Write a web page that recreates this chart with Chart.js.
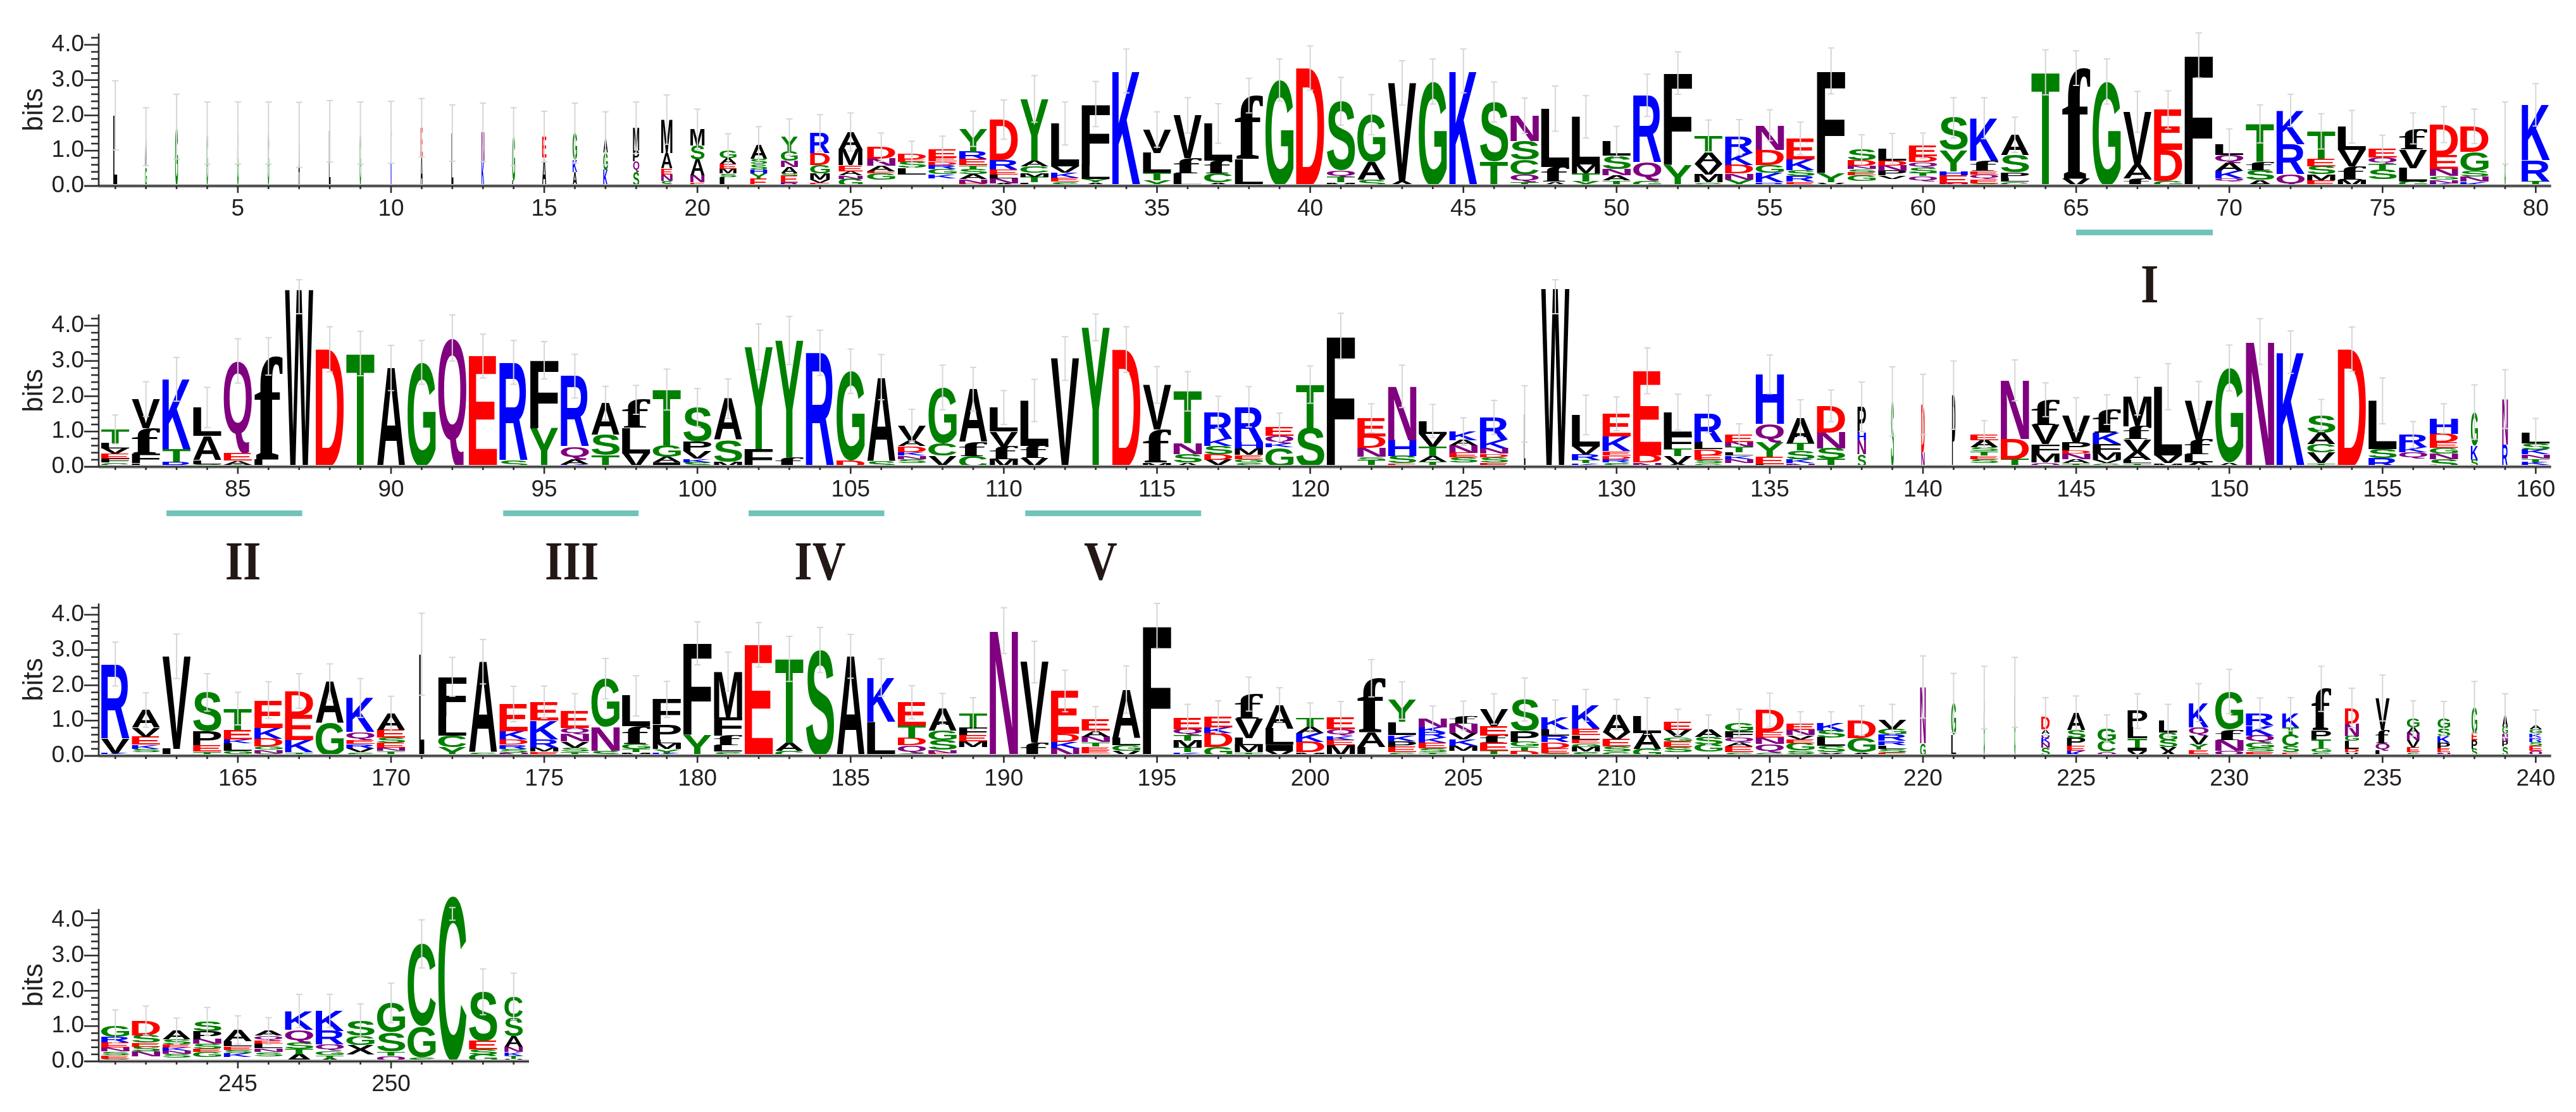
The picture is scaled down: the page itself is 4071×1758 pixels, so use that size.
<!DOCTYPE html>
<html>
<head>
<meta charset="utf-8">
<title>Sequence logo</title>
<script src="https://cdn.jsdelivr.net/npm/chart.js@4/dist/chart.umd.min.js"></script>
<style>
  html, body { margin: 0; padding: 0; background: #fff; }
  #page { position: relative; width: 4071px; height: 1758px; overflow: hidden; }
  canvas { position: absolute; left: 0; filter: blur(0.6px); }
</style>
</head>
<body>
<div id="page"></div>
<script>
// letters of each column read bottom to top, '-' is an empty part of the stack
const row1Letters = [
  'L','GA','G','G','G','G','A','L','G','K',
  'AE','L','KN','LG','AE','AKG','KGA','SQPM','SNEAM','ENASM',
  'LSMEAG','EYHSSA','RESANGY','EVMGDR','GNAEMA','-GEAND','-LSED','-KGRDEE','DNASTERY','ANLERD',
  'LTMCAY','SEKVL','AYLF','K','YTLV','LfV','ACfL','Lf','G','D',
  'MTQS','SAG','AV','G','K','TS','TQCSN','AfL','YTML','-TANSL',
  'GQR','YF','GMVAT','YNDKR','RKGDN','ERSKE','VYF','-GESNDS','-VPNDL','-QTSQDE',
  'NEHYS','GEQEfK','GLPSA','T','Vf','G','fAV','GDE','F','-QKAQL',
  'ASfT','QRK','EMSET','MfVL','-STQE','GLVf','KNGNED','KNSGD','G','TRK'
];
const row1Bits = [
  [2],[.55,.85],[1.68],[1.5],[1.5],[1.5],[1.45],[1.55],[1.5],[1.52],
  [.85,.8],[1.5],[.72,.8],[.15,1.25],[.8,.6],[.4,.35,.75],[.45,.5,.4],[.4,.3,.3,.65],[.15,.18,.17,.43,.95],[.1,.2,.45,.4,.45],
  [.25,.1,.13,.14,.16,.22],[.2,.15,.12,.15,.15,.4],[.09,.2,.06,.18,.18,.27,.4],[.09,.09,.18,.24,.33,.57],[.2,.1,.12,.17,.45,.49],[.18,.18,.06,.15,.2,.33],[.33,.18,.18,.06,.15],[.21,.12,.15,.12,.1,.11,.22],[.08,.12,.13,.14,.12,.18,.2,.65],[.08,.14,.11,.13,.27,1.15],
  [.1,.15,.12,.18,.17,1.75],[.12,.12,.13,.18,1.22],[.1,.1,.38,1.74],[3.26],[.17,.2,.56,.67],[.36,.42,1.22],[.1,.26,.36,1.05],[.76,1.8],[3],[3.34],
  [.1,.15,.18,1.97],[.18,.5,1.34],[.14,2.78],[2.96],[3.26],[.7,1.68],[.12,.2,.42,.53,.72],[.12,.42,1.65],[.13,.22,.26,1.35],[.06,.1,.14,.18,.38,.4],
  [.15,.52,1.9],[.6,2.6],[.1,.22,.3,.32,.48],[.18,.17,.24,.34,.45],[.1,.27,.22,.43,.7],[.12,.17,.16,.3,.6],[.1,.26,2.9],[.14,.16,.08,.1,.1,.15,.3],[.2,.1,.13,.15,.14,.34],[.12,.16,.08,.17,.15,.16,.3],
  [.08,.22,.12,.6,.91],[.08,.12,.12,.1,.3,1.2],[.12,.12,.14,.5,.57],[3.22],[.2,3.14],[2.96],[.21,.4,1.49],[.14,.88,1.14],[3.7],[.12,.1,.2,.22,.24,.3],
  [.17,.28,.25,1.06],[.34,.85,.95],[.16,.17,.23,.21,.78],[.18,.37,.47,.66],[.2,.27,.16,.18,.24],[.13,.38,.52,.6],[.08,.1,.1,.2,.38,.88],[.12,.14,.16,.55,.72],[1.5],[.13,.6,1.57]
];
const row1Upper = [
  2.98,2.22,2.6,2.38,2.38,2.38,2.37,2.42,2.38,2.4,
  2.48,2.3,2.35,2.22,2.12,2.35,2.1,2.38,2.58,2.18,
  1.48,1.68,1.9,2.02,2.07,1.5,1.27,1.41,2.12,2.44,
  3.13,2.38,2.96,3.88,2.1,2.5,2.33,3.05,3.6,3.97,
  3.08,2.59,3.55,3.6,3.88,2.95,2.49,2.83,2.56,1.69,
  3.17,3.8,1.87,1.88,2.16,1.81,3.91,1.45,1.49,1.5,
  2.5,2.5,1.95,3.86,3.83,3.6,2.68,2.7,4.34,1.62,
  2.3,2.6,2.05,2.14,1.44,2.07,2.25,2.18,2.38,2.9
];

const row2Letters = [
  'GFEVLT','LFfV','RTK','SLAL','TAEQ','Lf','W','D','T','A',
  'G','Q','E','SR','YF','KAQR','TSA','VLf','IAGT','SKVPS',
  'MSA','FY','fY','R','DG','SA','-SNKDAV','AVCG','CfA','MfVL',
  'VfL','V','Y','D','MfV','ASNT','-VDSKR','SGEMHR','GKQE','ST',
  'F','-TSNDE','ESHN','-TATVL','-SENAK','ESDNKR','L','W','KTRVL','SRDEKE',
  'NDE','AVTFL','GSEDLR','-NKLTNE','LEYQH','NKSTA','TSND','SNHP','S','ND',
  'P','-SETSAE','TDN','QMFVf','TANDPV','GVMFKf','TLAVfM','MVL','ALfV','AG',
  'N','K','TVCAS','D','RSL','-QKR','SNGEDH','SKG','RN','-KTNKSL'
];
const row2Bits = [
  [.12,.12,.13,.15,.15,.39],[.1,.27,.72,.83],[.14,.36,1.98],[.08,.12,.68,.8],[.06,.12,.2,2.62],[.2,2.93],[5.02],[3.33],[3.21],[2.8],
  [2.96],[3.65],[3.14],[.18,2.78],[1.1,1.92],[.07,.14,.36,2],[.33,.58,.89],[.38,.72,.8],[.12,.17,.32,1.58],[.13,.1,.21,.28,.96],
  [.14,.62,1.17],[.5,2.9],[.26,3.32],[3.23],[.18,2.53],[.17,2.37],[.1,.12,.1,.1,.17,.15,.44],[.04,.28,.34,1.59],[.3,.4,1.5],[.22,.36,.42,.68],
  [.24,.36,1.28],[3.07],[3.95],[3.32],[.12,.93,1.27],[.12,.24,.3,1.48],[.05,.15,.15,.24,.2,.76],[.12,.1,.12,.18,.18,1],[.55,.12,.2,.25],[1.1,1.23],
  [3.7],[.05,.13,.1,.25,.33,.52],[.1,.2,.46,1.52],[.05,.1,.15,.27,.36,.37],[.12,.14,.14,.2,.15,.25],[.12,.15,.1,.15,.25,.63],[1.5],[5.05],[.1,.1,.15,.22,.9],[.12,.1,.1,.12,.42,.64],
  [.12,.2,2.4],[.08,.22,.2,.4,.65],[.1,.1,.13,.17,.2,.8],[.1,.12,.1,.1,.15,.13,.2],[.08,.2,.42,.52,1.4],[.1,.12,.24,.2,.72],[.22,.3,.45,.76],[.36,.4,.2,.74],[1.85],[.42,1.35],
  [2.03],[.1,.12,.1,.12,.12,.2,.17],[.22,.56,1.67],[.12,.26,.26,.54,.72],[.1,.12,.15,.1,.22,.79],[.1,.1,.2,.24,.32,.66],[.1,.1,.22,.36,.36,.86],[.1,.23,1.94],[.13,.22,.42,1.11],[.12,2.68],
  [3.55],[3.25],[.1,.3,.24,.32,.5],[3.33],[.25,.25,1.37],[.24,.17,.14,.36],[.22,.16,.16,.16,.24,.43],[.2,.4,.95],[.62,1.3],[.05,.08,.1,.12,.14,.18,.3]
];
const row2Upper = [
  1.47,2.41,3.1,2.25,3.63,3.66,5.3,3.97,3.84,3.44,
  3.58,4.3,3.76,3.58,3.55,3.19,2.28,2.31,2.77,2.22,
  2.49,4.05,4.26,3.87,3.34,3.18,1.63,2.88,2.82,2.16,
  2.48,3.69,4.33,3.97,2.84,2.7,2,2.27,1.52,2.86,
  4.35,1.79,2.88,1.77,1.39,1.88,2.3,5.3,2.03,1.98,
  3.37,2.06,2.03,1.22,3.17,1.9,2.18,2.4,2.83,2.62,
  3,1.31,3.03,2.38,1.96,2.04,2.53,2.92,2.42,3.45,
  4.2,3.85,1.91,3.96,2.52,1.28,1.79,2.32,2.75,1.37
];

const row3Letters = [
  'KVR','-SKEVA','LV','TEPS','-GLKET','SNGDKE','TKED','GA','SVREQK','-TNESEA',
  'L','YCLF','SA','NSRDKE','EMRKE','TSVNQE','SNG','MTGfL','KYMLPF','YF',
  'SLfFM','E','CAT','S','A','LK','GQDTE','ENSGA','-MEFT','N',
  'fV','NKDE','-EETNAE','VGLA','F','KTMTQE','GDKE','TMLVf','VILA','MDKAT',
  'MEKQE','LAf','SEPKLY','TSEKRKN','-MKVNf','TEfEV','DTGPS','GEDRLK','SMGELEK','GSEVA',
  'GAL','-SEGVE','-GSA','SEAQFG','GQNED','-SGEVNE','XSLSK','AGD','ESLRRGV','GN',
  'LG','G','G','SNKQAD','KEPSA','QCG','VITLP','XSGL','SEYVQK','QNfG',
  'ESGQKR','ESCTK','SGTPf','VDLGND','LQfV','SEVNAG','NEPKSG','SPEG','SPNGA','QESRKGA'
];
const row3Bits = [
  [.08,.41,2.11],[.1,.1,.12,.22,.26,.5],[.2,2.62],[.12,.18,.4,1.1],[.05,.1,.2,.12,.27,.6],[.07,.1,.1,.22,.3,.79],[.1,.35,.7,.69],[.92,1.18],[.1,.12,.12,.12,.22,.96],[.04,.1,.1,.14,.14,.22,.46],
  [2.88],[.25,.32,.55,1.12],[.1,2.57],[.08,.12,.12,.14,.24,.77],[.12,.12,.22,.54,.52],[.12,.12,.17,.2,.17,.48],[.14,.68,1.37],[.1,.1,.14,.5,.86],[.08,.12,.15,.12,.42,.71],[.6,2.59],
  [.12,.18,.28,.52,1.29],[3.15],[.15,.22,2.38],[3],[2.82],[.97,1.25],[.08,.22,.2,.36,.66],[.08,.1,.27,.27,.61],[.25,.16,.18,.21,.4],[3.55],
  [.37,2.29],[.22,.18,.23,1.21],[.07,.1,.1,.12,.15,.17,.32],[.14,.17,.2,1.37],[3.68],[.1,.13,.2,.15,.18,.32],[.25,.4,.15,.3],[.1,.2,.2,.55,.7],[.14,.18,.45,.68],[.1,.3,.25,.18,.25],
  [.3,.15,.12,.18,.35],[.25,.42,1.53],[.1,.15,.17,.17,.37,.61],[.1,.12,.16,.13,.15,.15,.24],[.15,.13,.18,.18,.28,.22],[.15,.22,.2,.28,.48],[.14,.12,.14,.3,.9],[.08,.14,.17,.18,.18,.35],[.12,.13,.1,.12,.12,.18,.66],[.12,.14,.2,.2,.51],
  [.2,.45,.48],[.1,.15,.16,.12,.2,.22],[.12,.2,.22,.2],[.1,.16,.12,.14,.18,.24],[.1,.24,.18,.16,.62],[.05,.1,.2,.12,.12,.15,.18],[.1,.18,.24,.2,.21],[.1,.4,.5],[.08,.12,.1,.12,.18,.16,.28],[.36,1.59],
  [.6,.9],[1.65],[1.8],[.24,.13,.13,.13,.12,.37],[.14,.14,.22,.24,.48],[.12,.3,.36],[.14,.1,.26,.32,.45],[.25,.2,.22,.33],[.06,.12,.15,.24,.24,.7],[.15,.3,.3,1.07],
  [.12,.12,.14,.2,.28,.34],[.1,.18,.32,.2,.38],[.1,.12,.25,.25,1.18],[.1,.1,.22,.14,.36,.44],[.16,.2,.38,.9],[.1,.14,.2,.2,.17,.25],[.1,.12,.15,.19,.22,.28],[.2,.24,.2,.73],[.26,.16,.2,.2,.32],[.14,.14,.12,.12,.12,.12,.12]
];
const row3Upper = [
  3.22,1.79,3.45,2.33,1.8,2.1,2.33,2.61,2.19,1.69,
  4.04,2.79,3.3,1.97,1.98,1.76,2.76,2.27,2.11,3.8,
  2.94,3.78,3.39,3.64,3.44,2.75,1.99,1.77,1.65,4.2,
  3.25,2.43,1.4,2.55,4.32,1.46,1.56,2.23,1.93,1.5,
  1.54,2.73,2.1,1.41,1.55,1.76,2.21,1.58,1.88,1.6,
  1.65,1.32,1.16,1.32,1.78,1.25,1.25,1.42,1.46,2.83,
  2.34,2.54,2.79,1.65,1.7,1.16,1.76,1.46,2.05,2.45,
  1.64,1.65,2.54,1.92,2.29,1.56,1.54,2.11,1.76,1.3
];

const row4Letters = ['SESNERG','-NSESD','-SNKESA','-GESNPS','-KSELA','-SNLEQA','ATSQK','ATGQRK','-XGS','QTSG','SGC','C','GSES','VTKNASC'];
const row4Bits = [
  [.08,.1,.1,.12,.14,.16,.3],[.14,.14,.14,.12,.2,.42],[.1,.12,.09,.09,.08,.14,.24],[.12,.14,.1,.14,.13,.22,.28],[.12,.12,.09,.1,.14,.32],[.15,.12,.1,.14,.1,.12,.13],[.2,.16,.18,.36,.53],
  [.08,.1,.12,.18,.38,.57],[.2,.27,.26,.42],[.16,.12,.55,.83],[.12,.88,2.33],[4.68],[.2,.14,.24,1.39],[.07,.1,.1,.14,.3,.53,.6]
];
const row4Upper = [1.46,1.57,1.23,1.53,1.29,1.24,1.9,1.9,1.63,2.22,4.01,4.36,2.62,2.5];

// lower end of the error bar where it is not the mirror of the upper end
const lowerPositions = [87, 128, 252];
const lowerValues = [4.34, 4.34, 4.0];

// columns drawn narrower than full width (share of the column)
const narrowPositions = [1,2,3,4,5,6,7,8,9,10,11,12,13,14,15,16,17,18,19,20,21,22,23,24,25,79,127,138,139,140,141,158,159,171,220,221,222,223,224,225,226,227,228,229,232,233,234,235,236,237,238,239,240,254];
const narrowShares = [.14,.07,.1,.05,.05,.05,.05,.06,.05,.05,.08,.07,.1,.1,.15,.16,.16,.22,.4,.5,.6,.6,.6,.7,.85,.04,.05,.3,.1,.12,.12,.25,.2,.18,.2,.17,.04,.04,.3,.65,.65,.7,.65,.7,.6,.7,.5,.5,.45,.45,.2,.2,.45,.65];

const motifNames = ['I','II','III','IV','V'];
const motifStarts = [65, 82.67, 93.66, 101.67, 110.7];
const motifEnds = [69.46, 87.1, 98.08, 106.1, 116.44];
const motifCentres = [67.4, 85.17, 95.9, 104, 113.16];

const colors = {
  G: '#008000', S: '#008000', T: '#008000', Y: '#008000', C: '#008000',
  Q: '#800080', N: '#800080',
  K: '#0000ff', R: '#0000ff', H: '#0000ff',
  D: '#ff0000', E: '#ff0000'
};
const inkColor = '#231f20';
const gapLetter = '-';

function posOf(chart, pos) {
  return chart.scales.x.getPixelForValue(pos - chart.options.rowStart);
}

// squeeze one glyph into the box of its stacked bar
function drawLetter(ctx, letter, x, top, w, h) {
  if (h < 1 || w < 0.5) return;
  ctx.font = letter === 'f' ? 'bold 200px "Liberation Serif"' : 'bold 200px "Liberation Sans"';
  const m = ctx.measureText(letter);
  const gw = m.actualBoundingBoxLeft + m.actualBoundingBoxRight;
  const gh = m.actualBoundingBoxAscent + m.actualBoundingBoxDescent;
  ctx.save();
  ctx.translate(x - w / 2, top);
  ctx.scale(w / gw, h / gh);
  ctx.fillStyle = colors[letter] || '#000';
  ctx.textAlign = 'left';
  ctx.textBaseline = 'alphabetic';
  ctx.fillText(letter, m.actualBoundingBoxLeft, m.actualBoundingBoxAscent);
  ctx.restore();
}

const logoPlugin = {
  id: 'logo',
  afterDatasetsDraw(chart) {
    const ctx = chart.ctx;
    const o = chart.options;
    const xs = chart.scales.x;
    const ys = chart.scales.y;

    // letters
    chart.data.datasets.forEach((ds, k) => {
      chart.getDatasetMeta(k).data.forEach((bar, i) => {
        const letter = o.rowLetters[i][k];
        if (!letter || letter === gapLetter) return;
        const pos = o.rowStart + i;
        const n = narrowPositions.indexOf(pos);
        const share = n >= 0 ? narrowShares[n] : 1;
        drawLetter(ctx, letter, bar.x, bar.y, bar.width * share, bar.base - bar.y);
      });
    });

    // error bars
    ctx.strokeStyle = '#d6d6d6';
    ctx.lineWidth = 2;
    o.rowUpper.forEach((up, i) => {
      const pos = o.rowStart + i;
      const total = o.rowBits[i].reduce((a, b) => a + b, 0);
      const n = lowerPositions.indexOf(pos);
      const low = n >= 0 ? lowerValues[n] : Math.max(0, 2 * total - up);
      const x = posOf(chart, pos);
      ctx.beginPath();
      ctx.moveTo(x, ys.getPixelForValue(up));
      ctx.lineTo(x, ys.getPixelForValue(low));
      [up, low].forEach(v => {
        ctx.moveTo(x - 5, ys.getPixelForValue(v));
        ctx.lineTo(x + 5, ys.getPixelForValue(v));
      });
      ctx.stroke();
    });

    // tick marks and baseline
    const base = ys.getPixelForValue(0);
    const axisX = ys.right - 2;
    ctx.strokeStyle = '#bdbdbd';
    ctx.lineWidth = 6;
    ctx.beginPath();
    ctx.moveTo(axisX, base);
    ctx.lineTo(xs.right, base);
    ctx.stroke();

    ctx.strokeStyle = '#2e2e2e';
    ctx.lineWidth = 2.6;
    xs.ticks.forEach((t, i) => {
      const x = xs.getPixelForTick(i);
      const pos = o.rowStart + i;
      ctx.beginPath();
      ctx.moveTo(x, base);
      ctx.lineTo(x, base + (pos % 5 === 0 ? 11 : 5));
      ctx.stroke();
    });
    ys.ticks.forEach((t, i) => {
      const y = ys.getPixelForTick(i);
      const major = Number.isInteger(Math.round(t.value * 100) / 100);
      ctx.beginPath();
      ctx.moveTo(axisX, y);
      ctx.lineTo(axisX - (major ? 23 : 12), y);
      ctx.stroke();
    });
    ctx.beginPath();
    ctx.moveTo(axisX, ys.top);
    ctx.lineTo(axisX, base + 1);
    ctx.moveTo(axisX - 23, base);
    ctx.lineTo(xs.right, base);
    ctx.stroke();

    // motif bars and roman numerals under the axis
    motifNames.forEach((name, i) => {
      const from = motifStarts[i];
      if (from < o.rowStart || from > o.rowStart + o.rowLetters.length - 1 || !o.motifBarTop) return;
      const x0 = posOf(chart, from);
      const x1 = posOf(chart, motifEnds[i]);
      ctx.fillStyle = '#72c4bb';
      ctx.fillRect(x0, base + o.motifBarTop, x1 - x0, 9);
      ctx.save();
      ctx.translate(posOf(chart, motifCentres[i]), base + o.motifTextBottom);
      ctx.scale(0.85, 1);
      ctx.fillStyle = '#231815';
      ctx.font = 'bold 86px "Liberation Serif"';
      ctx.textAlign = 'center';
      ctx.textBaseline = 'alphabetic';
      ctx.fillText(name, 0, 0);
      ctx.restore();
    });
  }
};

function drawRow(cfg) {
  const canvas = document.createElement('canvas');
  canvas.width = cfg.width;
  canvas.height = cfg.height;
  canvas.style.top = cfg.top + 'px';
  document.getElementById('page').appendChild(canvas);

  const labels = cfg.letters.map((l, i) => cfg.start + i);
  const depth = Math.max(...cfg.bits.map(b => b.length));
  const datasets = [];
  for (let k = 0; k < depth; k++) {
    datasets.push({
      data: cfg.bits.map(b => b[k] || 0),
      backgroundColor: 'transparent',
      barPercentage: 0.92,
      categoryPercentage: 1
    });
  }

  new Chart(canvas, {
    type: 'bar',
    data: { labels: labels, datasets: datasets },
    options: {
      responsive: false,
      animation: false,
      rowStart: cfg.start,
      rowLetters: cfg.letters,
      rowBits: cfg.bits,
      rowUpper: cfg.upper,
      motifBarTop: cfg.motifBarTop,
      motifTextBottom: cfg.motifTextBottom,
      layout: { padding: { top: cfg.areaTop, right: cfg.right, left: 0, bottom: 0 } },
      plugins: { legend: { display: false }, tooltip: { enabled: false } },
      scales: {
        x: {
          stacked: true,
          afterFit: s => { s.height = cfg.axisHeight; },
          grid: { display: false },
          border: { display: false },
          ticks: {
            autoSkip: false,
            maxRotation: 0,
            padding: 7,
            color: inkColor,
            font: { family: 'Liberation Sans', size: 37 },
            callback: function (v, i) { return (cfg.start + i) % 5 === 0 ? String(cfg.start + i) : ''; }
          }
        },
        y: {
          stacked: true,
          min: 0,
          max: 4.32,
          afterFit: s => { s.width = 158; },
          grid: { display: false },
          border: { display: false },
          title: {
            display: true,
            text: 'bits',
            color: inkColor,
            font: { family: 'Liberation Sans', size: 44 },
            padding: { top: 28, bottom: 0 }
          },
          ticks: {
            autoSkip: false,
            stepSize: 0.2,
            includeBounds: false,
            padding: 17,
            color: inkColor,
            font: { family: 'Liberation Sans', size: 37 },
            callback: function (v) {
              const r = Math.round(v * 100) / 100;
              return Number.isInteger(r) ? r.toFixed(1) : '';
            }
          }
        }
      }
    },
    plugins: [logoPlugin]
  });
}

drawRow({ start: 1, letters: row1Letters, bits: row1Bits, upper: row1Upper, top: 0, width: 4071, height: 500, areaTop: 53, axisHeight: 206, right: 39.4, motifBarTop: 69, motifTextBottom: 184 });
drawRow({ start: 81, letters: row2Letters, bits: row2Bits, upper: row2Upper, top: 420, width: 4071, height: 520, areaTop: 77, axisHeight: 202, right: 39.4, motifBarTop: 69, motifTextBottom: 178 });
drawRow({ start: 161, letters: row3Letters, bits: row3Bits, upper: row3Upper, top: 900, width: 4071, height: 400, areaTop: 54, axisHeight: 105, right: 39.4 });
drawRow({ start: 241, letters: row4Letters, bits: row4Bits, upper: row4Upper, top: 1385, width: 876, height: 373, areaTop: 52, axisHeight: 80, right: 40 });
</script>
</body>
</html>
